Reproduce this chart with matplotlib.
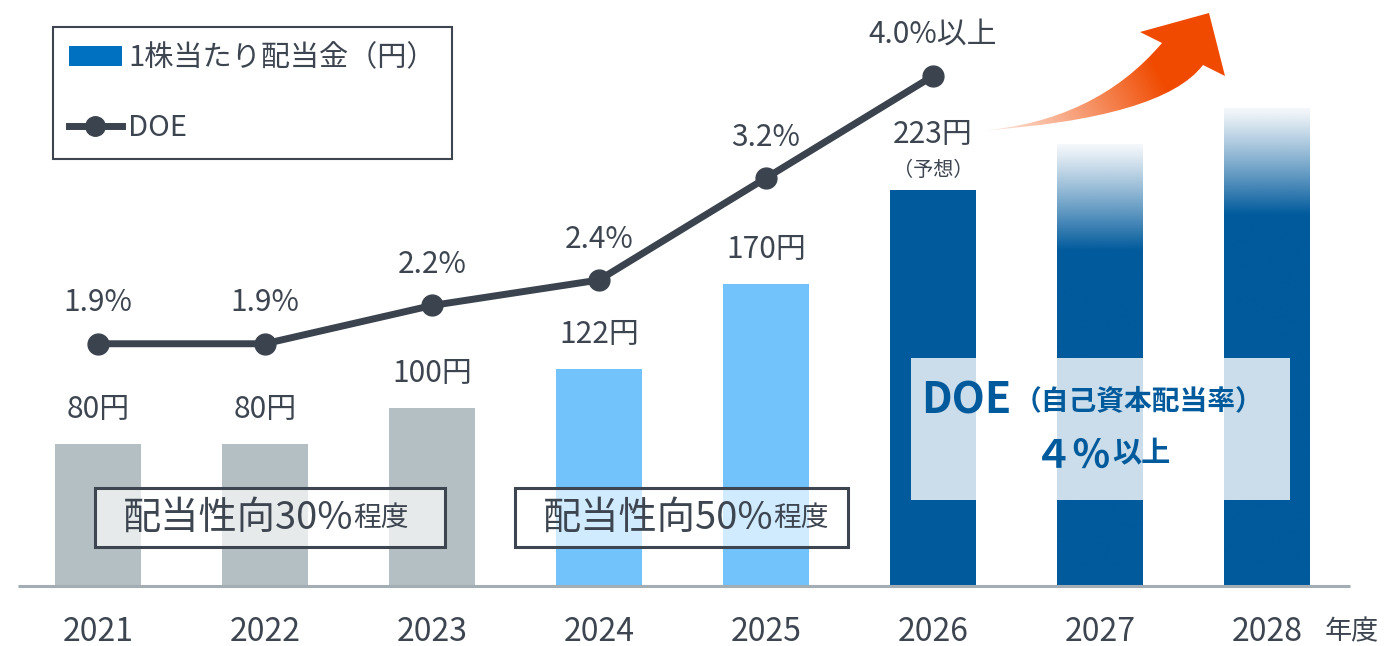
import numpy as np
import matplotlib
matplotlib.use("Agg")
import matplotlib.pyplot as plt
from matplotlib.patches import Patch, Rectangle, PathPatch
from matplotlib.lines import Line2D
from matplotlib.path import Path
from matplotlib.colors import to_rgb

plt.rcParams['font.family'] = ['Noto Sans CJK JP', 'DejaVu Sans']

# ---- data ----
years = ['2021', '2022', '2023', '2024', '2025', '2026', '2027', '2028']
dividend = [80, 80, 100, 122, 170, 223, 249, 269]          # yen per share (2027-28 illustrative)
dividend_labels = ['80円', '80円', '100円', '122円', '170円', '223円', None, None]
doe = [1.9, 1.9, 2.2, 2.4, 3.2, 4.0]                        # DOE (%)
doe_labels = ['1.9%', '1.9%', '2.2%', '2.4%', '3.2%', '4.0%以上']
bar_colors = ['#b4bfc4', '#b4bfc4', '#b4bfc4', '#72c2fc', '#72c2fc',
              '#005a9c', '#005a9c', '#005a9c']
faded = [False, False, False, False, False, False, True, True]

TXT = '#3d4550'
LINE = '#3a434e'
BLUE = '#005a9c'

W, H = 1384, 646
fig = plt.figure(figsize=(W / 100, H / 100), dpi=100)

base_px = 586          # baseline, pixels from top
step_px = 167          # category spacing
x0_px = 98             # first category centre
ax = fig.add_axes([0, (H - base_px) / H, 1, base_px / H])
ax.set_xlim(-x0_px / step_px, (W - x0_px) / step_px)
ax.set_ylim(0, base_px / 1.777)
ax.axis('off')

x = np.arange(len(years))
bw = 0.51
bars = ax.bar(x, dividend, width=bw, color=bar_colors, zorder=2)

# fade the projected bars towards the top
for xi, v, fd, b in zip(x, dividend, faded, bars):
    if not fd:
        continue
    b.set_facecolor('none')
    n = 256
    yy = np.linspace(0, v, n)
    fade = 60.0
    a = np.clip((v - yy) / fade, 0, 1)
    a = 0.04 + 0.96 * a ** 1.1
    rgba = np.zeros((n, 1, 4))
    rgba[..., :3] = to_rgb(BLUE)
    rgba[:, 0, 3] = a
    im = ax.imshow(rgba, extent=(xi - bw / 2, xi + bw / 2, 0, v), origin='lower',
                   aspect='auto', zorder=2, interpolation='bilinear')
    im.set_clip_path(b)
ax.set_xlim(-x0_px / step_px, (W - x0_px) / step_px)
ax.set_ylim(0, base_px / 1.777)

# baseline
ax.plot([(18 - x0_px) / step_px, (1350 - x0_px) / step_px], [0, 0],
        color='#a3adb4', lw=2.2, solid_capstyle='butt', zorder=3, clip_on=False)

# bar value labels
for xi, v, lab in zip(x, dividend, dividend_labels):
    if lab is None:
        continue
    if xi == 5:
        ax.annotate(lab, (xi, v), xytext=(0, 40), textcoords='offset points',
                    ha='center', va='center', fontsize=21.5, color=TXT)
        ax.annotate('（予想）', (xi, v), xytext=(0, 13.5), textcoords='offset points',
                    ha='center', va='center', fontsize=14.5, color=TXT)
    else:
        ax.annotate(lab, (xi, v), xytext=(0, 25), textcoords='offset points',
                    ha='center', va='center', fontsize=21.5, color=TXT)

# category labels
for xi, yr in zip(x, years):
    ax.annotate(yr, (xi, 0), xytext=(0, -33), textcoords='offset points',
                ha='center', va='center', fontsize=23, color=TXT, annotation_clip=False)
fig.text(1325 / W, 1 - 632 / H, '年度', ha='left', va='center', fontsize=19.5, color=TXT)


def px_x(p):
    return (p - x0_px) / step_px


def px_y(p):
    return (base_px - p) / 1.777


# payout-ratio boxes
def payout_box(left, right, main, small):
    r = Rectangle((px_x(left), px_y(547)), px_x(right) - px_x(left), px_y(488) - px_y(547),
                  facecolor=(1, 1, 1, 0.68), edgecolor=TXT, lw=2.2, zorder=4)
    ax.add_patch(r)
    t1 = ax.text(px_x(left + 28), px_y(518), main, ha='left', va='center',
                 fontsize=27.5, color=TXT, zorder=5)
    ax.annotate(small, xy=(1.0, 0.0), xycoords=t1, xytext=(0, 3),
                textcoords='offset points', ha='left', va='bottom',
                fontsize=20, color=TXT, zorder=5)


payout_box(95, 445, '配当性向30%', '程度')
payout_box(515, 848, '配当性向50%', '程度')

# DOE target box
ax.add_patch(Rectangle((px_x(911), px_y(500)), px_x(1290) - px_x(911), px_y(358) - px_y(500),
                       facecolor=(1, 1, 1, 0.8), edgecolor='none', zorder=4))
t_doe = ax.text(px_x(921), px_y(401), 'DOE', ha='left', va='center', fontsize=31,
                fontweight='bold', color=BLUE, zorder=5)
ax.annotate('（自己資本配当率）', xy=(1.0, 0.5), xycoords=t_doe, xytext=(2, 0),
            textcoords='offset points', ha='left', va='center', fontsize=20,
            fontweight='bold', color=BLUE, zorder=5)
t_pct = ax.text(px_x(1034), px_y(456), '４％', ha='left', va='center', fontsize=28,
                fontweight='bold', color=BLUE, zorder=5)
ax.annotate('以上', xy=(1.0, 0.0), xycoords=t_pct, xytext=(0, 5),
            textcoords='offset points', ha='left', va='bottom', fontsize=21,
            fontweight='bold', color=BLUE, zorder=5)

# DOE line on a secondary scale sharing the baseline
ax2 = ax.twinx()
ax2.set_ylim(0, base_px / 127.5)
ax2.axis('off')
xd = x[:len(doe)]
ax2.plot(xd, doe, color=LINE, lw=5, marker='o', markersize=15,
         solid_capstyle='round', zorder=6)
for xi, v, lab in zip(xd, doe, doe_labels):
    ax2.annotate(lab, (xi, v), xytext=(0, 29.5), textcoords='offset points',
                 ha='center', va='center', fontsize=21.5, color=TXT)

# legend
handles = [Patch(facecolor='#0070c0', edgecolor='none'),
           Line2D([], [], color=LINE, lw=5, marker='o', markersize=14)]
leg = fig.legend(handles, ['1株当たり配当金（円）', 'DOE'], loc='upper left',
                 bbox_to_anchor=(53 / W, 1 - 27 / H), bbox_transform=fig.transFigure,
                 borderaxespad=0, fontsize=21, frameon=True, fancybox=False,
                 edgecolor=TXT, framealpha=1, handlelength=1.8, handletextpad=0.22,
                 labelspacing=1.38, borderpad=0.55, labelcolor=TXT, numpoints=1)
leg.get_frame().set_linewidth(1.5)

# rising arrow with gradient fill
ov = fig.add_axes([0, 0, 1, 1])
ov.set_xlim(0, W)
ov.set_ylim(H, 0)
ov.axis('off')
tail = (978, 131)
verts = [tail, (1095, 122), (1162, 43), (1140, 32), (1209, 13), (1225, 76), (1203, 65),
         (1163, 118), tail, tail]
codes = [Path.MOVETO, Path.CURVE3, Path.CURVE3, Path.LINETO, Path.LINETO, Path.LINETO,
         Path.LINETO, Path.CURVE3, Path.CURVE3, Path.CLOSEPOLY]
arrow_path = Path(verts, codes)
clip = PathPatch(arrow_path, transform=ov.transData, facecolor='none', edgecolor='none')
ov.add_patch(clip)
gx = np.linspace(970, 1230, 260)
gy = np.linspace(0, 140, 140)
GX, GY = np.meshgrid(gx, gy)
d = np.array([1209 - tail[0], 13 - tail[1]], dtype=float)
t = ((GX - tail[0]) * d[0] + (GY - tail[1]) * d[1]) / (d @ d)
f = np.clip(t / 0.72, 0, 1)
alpha = 0.12 + 0.88 * f ** 1.15
grad = np.zeros(GX.shape + (4,))
grad[..., :3] = to_rgb('#f04a00')
grad[..., 3] = alpha
gim = ov.imshow(grad, extent=(970, 1230, 140, 0), origin='upper', aspect='auto',
                interpolation='bilinear')
gim.set_clip_path(clip)
ov.set_xlim(0, W)
ov.set_ylim(H, 0)

fig.savefig('out.png', dpi=100)
